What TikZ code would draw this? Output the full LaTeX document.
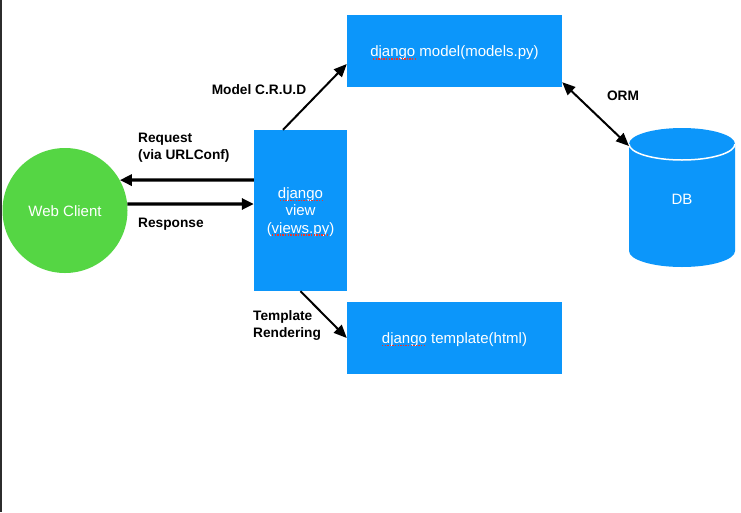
\documentclass[tikz,border=0pt]{standalone}
\usepackage{fontspec}
\setmainfont{Liberation Sans}
\usetikzlibrary{arrows.meta,calc}
\definecolor{djblue}{HTML}{0C96FA}
\definecolor{clientgreen}{HTML}{55D644}
\definecolor{edgedark}{HTML}{2C2C2C}
\definecolor{spellred}{HTML}{E8372F}
\tikzset{
  box/.style={rectangle, fill=djblue, draw=none, inner sep=0pt},
  boxtext/.style={text=white, inner sep=0pt, font=\fontsize{15}{17.3}\selectfont, align=center},
  lbl/.style={font=\bfseries\fontsize{13.7}{16.7}\selectfont, inner sep=0pt, text=black},
  thickarr/.style={line width=3.2pt, -{Triangle[length=12pt,width=11pt]}},
  thinarr/.style={line width=2pt, -{Triangle[length=13pt,width=11pt]}},
  bothArr/.style={line width=2pt, {Triangle[length=13pt,width=11pt]}-{Triangle[length=13pt,width=11pt]}},
  squiggle/.style={spellred, line width=1.2pt, dash pattern=on 1.3pt off 1.3pt}
}
\begin{document}
\begin{tikzpicture}[x=1pt,y=-1pt]
\useasboundingbox[fill=white] (0,0) rectangle (741,512);
\fill[edgedark] (0,0) rectangle (2.2,512);

% nodes
\node[circle, fill=clientgreen, minimum size=125pt, inner sep=0pt] (client) at (65,210.5) {};
\node[box, minimum width=93pt, minimum height=161pt] (view) at (300.5,210.5) {};
\node[box, minimum width=215pt, minimum height=72pt] (model) at (454.5,51) {};
\node[box, minimum width=215pt, minimum height=72pt] (template) at (454.5,338) {};

% database cylinder
\fill[djblue] (629,144) -- (629,251) arc[start angle=180, end angle=360, x radius=53pt, y radius=16pt] -- (735,144) arc[start angle=0, end angle=180, x radius=53pt, y radius=16pt] -- cycle;
\draw[white, line width=1.5pt] (629,144) arc[start angle=180, end angle=360, x radius=53pt, y radius=16pt];
\coordinate (dbtop) at (629,146);

% texts
\node[boxtext] (clienttext) at (65,211) {Web Client};
\node[boxtext] (viewtext) at (300.5,212) {django\\view\\(views.py)};
\node[boxtext] (modeltext) at (454.5,52.5) {django model(models.py)};
\node[boxtext] (templatetext) at (454.5,339.5) {django template(html)};
\node[boxtext] (db) at (682,199.5) {DB};

% spell-check underlines
\draw[squiggle] (373,59) -- (416,59);
\draw[squiggle] (382,345.5) -- (425,345.5);
\draw[squiggle] (280,200.5) -- (324,200.5);
\draw[squiggle] (272,235) -- (329,235);

% connectors
\draw[thickarr] ([yshift=30.5pt]view.west) -- (client.29);
\draw[thickarr] (client.6) -- ([yshift=6.5pt]view.west);
\draw[thinarr] ([xshift=-17.5pt]view.north) -- ([yshift=-13pt]model.west);
\draw[thinarr] (view.south) -- (template.west);
\draw[bothArr] ([yshift=5pt]model.south east) -- (dbtop);

% labels
\node[lbl, anchor=west, align=left] (lreq) at (138,148) {Request\\(via URLConf)};
\node[lbl, anchor=west] (lresp) at (138,224.5) {Response};
\node[lbl] (lcrud) at (259,90) {Model C.R.U.D};
\node[lbl, anchor=west, align=left] (ltpl) at (253,325.3) {Template\\Rendering};
\node[lbl] (lorm) at (623,95.5) {ORM};
\end{tikzpicture}
\end{document}
